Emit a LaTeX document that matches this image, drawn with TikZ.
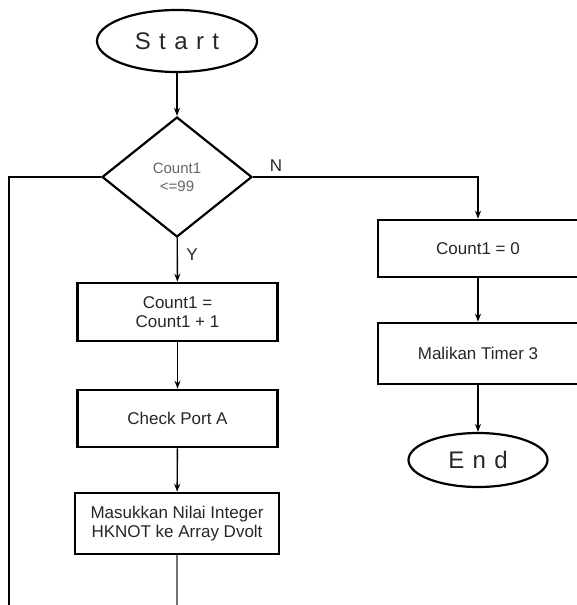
\documentclass[tikz,border=0pt]{standalone}
\usepackage{fontspec}
\setmainfont{Liberation Sans}
\newfontfamily\spacedfont[LetterSpace=35]{Liberation Sans}
\usetikzlibrary{shapes.geometric,arrows.meta}
\begin{document}
\begin{tikzpicture}[x=1pt,y=-1pt,
  box/.style={draw, line width=2.6pt, rectangle, minimum width=200pt, minimum height=58pt, inner sep=2pt, font=\fontsize{17}{19}\selectfont, text=black!85, align=center},
  term/.style={draw, ellipse, line width=2.2pt, inner sep=0pt, font=\spacedfont\fontsize{24}{26}\selectfont, text=black!85},
  dec/.style={draw, diamond, line width=2.2pt, minimum width=150pt, minimum height=120pt, inner sep=0pt, font=\fontsize{15}{18}\selectfont, text=black!60, align=center},
  flow/.style={line width=1.4pt, -{Stealth[length=8pt,width=6pt]}},
  link/.style={line width=1.4pt},
  lbl/.style={font=\fontsize{17}{19}\selectfont, text=black!85, inner sep=0pt}]
\useasboundingbox (0,0) rectangle (576,605);
\node[term, minimum width=160pt, minimum height=62pt] (start) at (177,41) {Start};
\node[dec] (cond) at (177,177) {Count1\\<=99};
\node[box] (inc) at (177.5,312) {Count1 =\\Count1 + 1};
\node[box, minimum height=57pt] (check) at (177.5,418.5) {Check Port A};
\node[box, minimum width=204pt, minimum height=61pt] (save) at (177,523.5) {Masukkan Nilai Integer\\HKNOT ke Array Dvolt};
\node[box, minimum height=57pt] (reset) at (478,248.5) {Count1 = 0};
\node[box, minimum height=61pt] (timer) at (478,353.5) {Malikan Timer 3};
\node[term, minimum width=139pt, minimum height=54pt] (end) at (478,460) {End};
\node[lbl] (nlab) at (276,166) {N};
\node[lbl] (ylab) at (192,255) {Y};
\coordinate (nc) at (reset.north |- cond.east);
\coordinate (lc) at (9,177);
\coordinate (lb) at (9,605);
\coordinate (sb) at (177,605);
\draw[flow] (start) -- (cond);
\draw[flow] (cond) -- (inc);
\draw[flow] (inc) -- (check);
\draw[flow] (check) -- (save);
\draw[flow] (cond.east) -- (nc) -- (reset.north);
\draw[flow] (reset) -- (timer);
\draw[flow] (timer) -- (end);
\draw[link] (cond.west) -- (lc) -- (lb);
\draw[link, draw=black!55, line width=2pt] (save.south) -- (save.south |- sb);
\end{tikzpicture}
\end{document}
